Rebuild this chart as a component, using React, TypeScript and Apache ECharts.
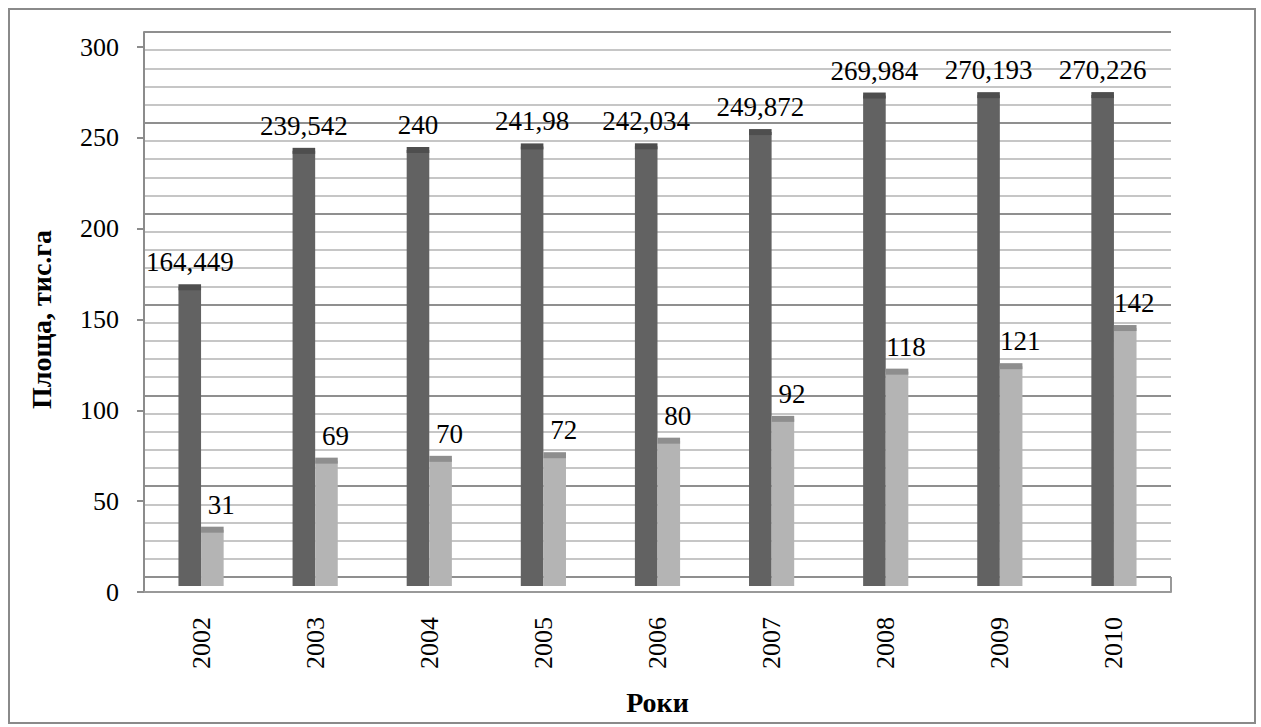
import React, { useEffect, useRef } from "react";
import * as echarts from "echarts";

const years = ["2002", "2003", "2004", "2005", "2006", "2007", "2008", "2009", "2010"];
const seriesTotal = [164.449, 239.542, 240, 241.98, 242.034, 249.872, 269.984, 270.193, 270.226];
const seriesSecond = [31, 69, 70, 72, 80, 92, 118, 121, 142];
const yTitle = "Площа, тис.га";
const xTitle = "Роки";

const FONT = "Liberation Serif";

const fmt = (v: number) => String(v).replace(".", ",");

function makeBar(values: number[], side: number, body: string, cap: string, labelOffset: number) {
  return {
    type: "custom",
    xAxisIndex: 1,
    yAxisIndex: 1,
    data: values.map((v, i) => [i, v]),
    renderItem: (params: any, api: any) => {
      const cat = api.value(0);
      const v = api.value(1);
      const base = api.coord([cat, 0]);
      const top = api.coord([cat, v]);
      const band = api.size([1, 0])[0];
      const w = band * 0.198;
      const x = side === 0 ? base[0] - w : base[0];
      return {
        type: "group",
        children: [
          { type: "rect", shape: { x, y: top[1], width: w, height: base[1] - top[1] }, style: { fill: body } },
          { type: "rect", shape: { x, y: top[1] - 3, width: w, height: 6 }, style: { fill: cap } },
          {
            type: "text",
            style: {
              text: fmt(v),
              x: x + w / 2 + labelOffset,
              y: top[1] - 25,
              align: "center",
              verticalAlign: "middle",
              fontFamily: FONT,
              fontSize: 27,
              fill: "#000",
            },
          },
        ],
      };
    },
  };
}

export default function App() {
  const ref = useRef<HTMLDivElement>(null);
  useEffect(() => {
    if (!ref.current) return;
    const chart = echarts.init(ref.current, undefined, { renderer: "svg" });
    const gridH = { left: 144, right: 90 };
    const option: any = {
      animation: false,
      backgroundColor: "#fff",
      textStyle: { fontFamily: FONT },
      grid: [
        { ...gridH, top: 47, bottom: 135 },
        { ...gridH, top: 41, bottom: 141 },
        { ...gridH, top: 32, bottom: 150 },
      ],
      xAxis: [
        {
          type: "category",
          gridIndex: 0,
          data: years,
          axisLine: { show: true, lineStyle: { color: "#999", width: 2 } },
          axisTick: { show: false },
          axisLabel: { rotate: 90, margin: 25, fontFamily: FONT, fontSize: 26, color: "#000" },
          name: xTitle,
          nameLocation: "middle",
          nameGap: 96,
          nameTextStyle: { fontFamily: FONT, fontSize: 28, fontWeight: "bold", color: "#000" },
        },
        { type: "category", gridIndex: 1, data: years, show: false },
        { type: "category", gridIndex: 2, data: years, show: false },
      ],
      yAxis: [
        {
          type: "value",
          gridIndex: 0,
          min: 0,
          max: 300,
          interval: 50,
          axisLine: { show: true, lineStyle: { color: "#8c8c8c", width: 2 } },
          axisTick: { show: true, length: 7, lineStyle: { color: "#8c8c8c", width: 2 } },
          axisLabel: { margin: 25, fontFamily: FONT, fontSize: 26, color: "#000" },
          splitLine: { show: false },
          name: yTitle,
          nameLocation: "middle",
          nameRotate: 90,
          nameGap: 89,
          nameTextStyle: { fontFamily: FONT, fontSize: 28, fontWeight: "bold", color: "#000" },
        },
        { type: "value", gridIndex: 1, min: 0, max: 300, show: false },
        {
          type: "value",
          gridIndex: 2,
          min: 0,
          max: 300,
          interval: 10,
          axisLine: { show: true, lineStyle: { color: "#8c8c8c", width: 2 } },
          axisTick: { show: false },
          axisLabel: { show: false },
          splitLine: {
            show: true,
            lineStyle: { color: ["#8f8f8f", "#c6c6c6", "#c6c6c6", "#c6c6c6", "#c6c6c6"], width: 2 },
          },
        },
      ],
      series: [
        makeBar(seriesTotal, 0, "#626262", "#4e4e4e", 0),
        makeBar(seriesSecond, 1, "#b4b4b4", "#8e8e8e", 9),
      ],
      graphic: [
        {
          type: "rect",
          shape: { x: 9, y: 9, width: 1246, height: 714 },
          style: { fill: "none", stroke: "#8a8a8a", lineWidth: 2 },
          silent: true,
        },
        {
          type: "line",
          shape: { x1: 1171, y1: 577, x2: 1171, y2: 592 },
          style: { stroke: "#999", lineWidth: 2 },
          silent: true,
        },
      ],
    };
    chart.setOption(option);
    return () => chart.dispose();
  }, []);
  return (
    <div
      ref={ref}
      style={{ position: "absolute", left: 0, top: 0, width: 1261, height: 727 }}
    />
  );
}
